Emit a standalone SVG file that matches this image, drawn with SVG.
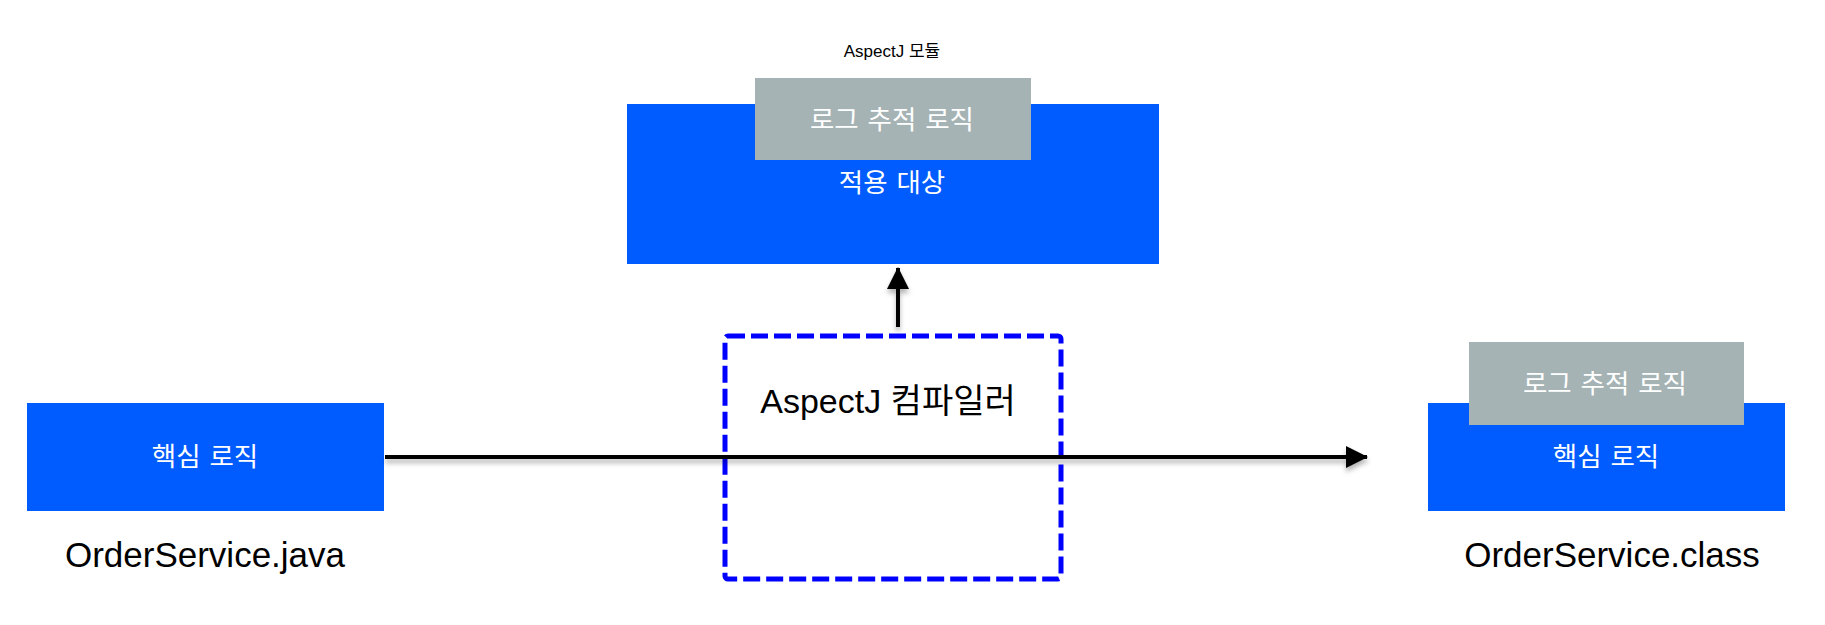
<svg xmlns="http://www.w3.org/2000/svg" width="1825" height="625" viewBox="0 0 1825 625">
  <style>
    text { font-family: "Liberation Sans", "Noto Sans CJK KR", sans-serif; text-anchor: middle; }
    .blue { fill: #005CFF; }
    .gray { fill: #A5B3B5; }
    .wt { fill: #FFFFFF; font-size: 26.5px; dominant-baseline: central; word-spacing: 1.5px; }
    .bt { fill: #000000; }
    .conn { stroke: #000000; stroke-width: 4; fill: none; }
  </style>
  <defs>
    <filter id="sh" x="-20%" y="-50%" width="140%" height="300%">
      <feDropShadow dx="0" dy="4" stdDeviation="2.5" flood-color="#000" flood-opacity="0.3"/>
    </filter>
    <marker id="arr" markerUnits="userSpaceOnUse" markerWidth="22" markerHeight="22" viewBox="0 0 22 22" refX="21" refY="11" orient="auto">
      <path d="M0,0 L22,11 L0,22 Z" fill="#000"/>
    </marker>
  </defs>

  <g id="aspect-module">
    <text class="bt" x="892" y="57" font-size="17">AspectJ 모듈</text>
    <rect class="blue" x="627" y="104" width="532" height="160"/>
    <rect class="gray" x="755" y="78" width="276" height="82"/>
    <text class="wt" x="892" y="120">로그 추적 로직</text>
    <text class="wt" x="892" y="183">적용 대상</text>
  </g>

  <g id="compiler">
    <rect x="725" y="336" width="336" height="243" rx="3" fill="none" stroke="#0000FF" stroke-width="5" stroke-dasharray="17 6"/>
    <text class="bt" x="888" y="413" font-size="34">AspectJ 컴파일러</text>
  </g>

  <g id="source">
    <rect class="blue" x="27" y="403" width="357" height="108"/>
    <text class="wt" x="205" y="457">핵심 로직</text>
    <text class="bt" x="205" y="567" font-size="35">OrderService.java</text>
  </g>

  <g id="output">
    <rect class="blue" x="1428" y="403" width="357" height="108"/>
    <rect class="gray" x="1469" y="342" width="275" height="83"/>
    <text class="wt" x="1605" y="384">로그 추적 로직</text>
    <text class="wt" x="1606" y="457">핵심 로직</text>
    <text class="bt" x="1612" y="567" font-size="35">OrderService.class</text>
  </g>

  <g id="connectors" filter="url(#sh)">
    <line class="conn" x1="385" y1="457" x2="1367" y2="457" marker-end="url(#arr)"/>
    <line class="conn" x1="898" y1="327" x2="898" y2="268" marker-end="url(#arr)"/>
  </g>
</svg>
